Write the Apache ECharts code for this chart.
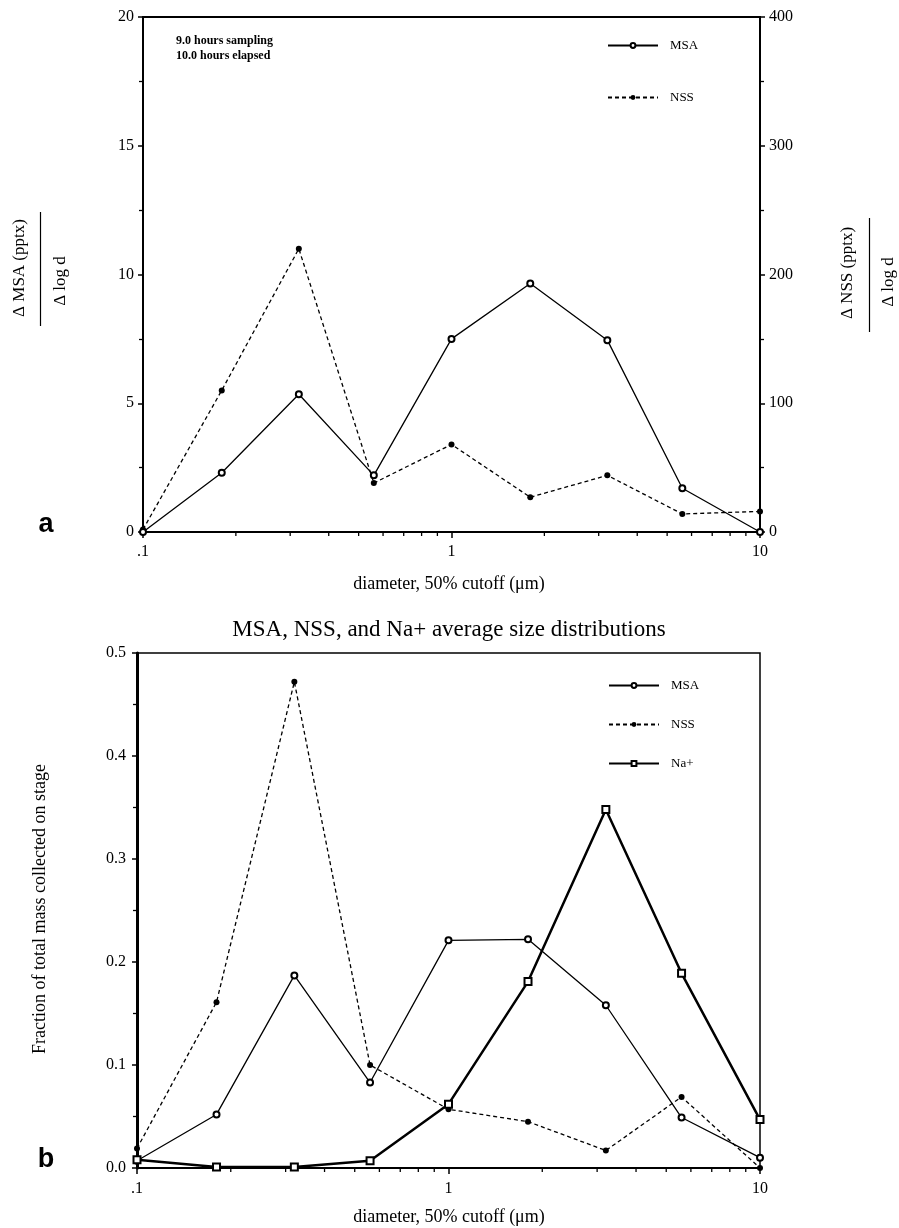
<!DOCTYPE html>
<html>
<head>
<meta charset="utf-8">
<script src="https://cdn.jsdelivr.net/npm/echarts@6/dist/echarts.min.js"></script>
<style>html,body{margin:0;padding:0;background:#fff}#c{width:899px;height:1228px}</style>
</head>
<body>
<div id="c"></div>
<script>
// ---- data ----
const diameters = [0.1, 0.18, 0.32, 0.56, 1.0, 1.8, 3.2, 5.6, 10];
const msaA = [0, 2.3, 5.35, 2.2, 7.5, 9.65, 7.45, 1.7, 0];
const nssA = [2, 110, 220, 38, 68, 27, 44, 14, 16];
const msaB = [0.007, 0.052, 0.187, 0.083, 0.221, 0.222, 0.158, 0.049, 0.010];
const nssB = [0.019, 0.161, 0.472, 0.100, 0.057, 0.045, 0.017, 0.069, 0.0];
const naB  = [0.008, 0.001, 0.001, 0.007, 0.062, 0.181, 0.348, 0.189, 0.047];
const xMinorTicks = [0.2,0.3,0.4,0.5,0.6,0.7,0.8,0.9,2,3,4,5,6,7,8,9];

const SERIF = '"Liberation Serif", "DejaVu Serif", serif';
const pairs = (ys) => diameters.map((d, i) => [d, ys[i]]);

const chart = echarts.init(document.getElementById('c'));

function xAxisDef(gridIndex, margin) {
  return {
    type: 'log', logBase: 10, gridIndex, min: 0.1, max: 10,
    axisLine: { show: true, lineStyle: { color: '#000', width: 2 } },
    axisTick: { show: true, length: 6, lineStyle: { color: '#000', width: 1.5 } },
    splitLine: { show: false },
    axisLabel: { color: '#000', fontFamily: SERIF, fontSize: 16, margin,
      formatter: v => v < 0.5 ? '.1' : String(Math.round(v)) }
  };
}

function minorTickSeries(xi, yi) {
  return {
    type: 'custom', xAxisIndex: xi, yAxisIndex: yi, silent: true, clip: false, z: 10,
    data: xMinorTicks.map(v => [v, 0]),
    encode: { x: 0, y: 1 },
    renderItem: (params, api) => {
      const p = api.coord([api.value(0), api.value(1)]);
      return { type: 'line', shape: { x1: p[0], y1: p[1], x2: p[0], y2: p[1] + 4 },
        style: { stroke: '#000', lineWidth: 1.3 } };
    }
  };
}

const msaStyle = { type: 'line', symbol: 'emptyCircle', symbolSize: 6,
  lineStyle: { color: '#000', width: 1.3 }, itemStyle: { color: '#000', borderColor: '#000', borderWidth: 1.2 } };
const nssStyle = { type: 'line', symbol: 'circle', symbolSize: 6,
  lineStyle: { color: '#000', width: 1.3, type: [4, 3] }, itemStyle: { color: '#000' } };
const naStyle = { type: 'line', symbol: 'emptyRect', symbolSize: 7,
  lineStyle: { color: '#000', width: 2.5 }, itemStyle: { color: '#000', borderColor: '#000', borderWidth: 1.3 } };

const legendText = { color: '#000', fontFamily: SERIF, fontSize: 13, padding: [0, 0, 0, 7] };

const option = {
  animation: false,
  backgroundColor: '#fff',
  grid: [
    { left: 143, right: 139, top: 17, height: 515, show: true, borderColor: '#000', borderWidth: 2 },
    { left: 137, right: 139, top: 653, height: 515, show: true, borderColor: '#000', borderWidth: 1.5 }
  ],
  xAxis: [ xAxisDef(0, 12), xAxisDef(1, 13) ],
  yAxis: [
    { type: 'value', gridIndex: 0, min: 0, max: 20, interval: 5, position: 'left',
      axisLine: { show: true, lineStyle: { color: '#000', width: 2 } },
      axisTick: { show: true, length: 5, lineStyle: { color: '#000', width: 1.5 } },
      minorTick: { show: true, splitNumber: 2, length: 4, lineStyle: { color: '#000', width: 1.3 } },
      splitLine: { show: false },
      axisLabel: { color: '#000', fontFamily: SERIF, fontSize: 16, margin: 9 } },
    { type: 'value', gridIndex: 0, min: 0, max: 400, interval: 100, position: 'right',
      axisLine: { show: true, lineStyle: { color: '#000', width: 2 } },
      axisTick: { show: true, length: 5, lineStyle: { color: '#000', width: 1.5 } },
      minorTick: { show: true, splitNumber: 2, length: 4, lineStyle: { color: '#000', width: 1.3 } },
      splitLine: { show: false },
      axisLabel: { color: '#000', fontFamily: SERIF, fontSize: 16, margin: 9 } },
    { type: 'value', gridIndex: 1, min: 0, max: 0.5, interval: 0.1, position: 'left',
      axisLine: { show: true, lineStyle: { color: '#000', width: 3 } },
      axisTick: { show: true, length: 5, lineStyle: { color: '#000', width: 1.5 } },
      minorTick: { show: true, splitNumber: 2, length: 4, lineStyle: { color: '#000', width: 1.3 } },
      splitLine: { show: false },
      axisLabel: { color: '#000', fontFamily: SERIF, fontSize: 16, margin: 11,
        formatter: v => v.toFixed(1) } }
  ],
  legend: [
    { data: ['MSA', 'NSS'], orient: 'vertical', left: 602, top: 34, itemWidth: 50, itemHeight: 6, itemGap: 39,
      selectedMode: false, textStyle: legendText },
    { data: ['MSA', 'NSS', 'Na+'], orient: 'vertical', left: 603, top: 674, itemWidth: 50, itemHeight: 6, itemGap: 26,
      selectedMode: false, textStyle: legendText }
  ],
  series: [
    Object.assign({ name: 'MSA', xAxisIndex: 0, yAxisIndex: 0, data: pairs(msaA), z: 5 }, msaStyle),
    Object.assign({ name: 'NSS', xAxisIndex: 0, yAxisIndex: 1, data: pairs(nssA), z: 4 }, nssStyle),
    Object.assign({ name: 'MSA', xAxisIndex: 1, yAxisIndex: 2, data: pairs(msaB), z: 5 }, msaStyle),
    Object.assign({ name: 'NSS', xAxisIndex: 1, yAxisIndex: 2, data: pairs(nssB), z: 4 }, nssStyle),
    Object.assign({ name: 'Na+', xAxisIndex: 1, yAxisIndex: 2, data: pairs(naB), z: 6 }, naStyle),
    minorTickSeries(0, 0),
    minorTickSeries(1, 2)
  ],
  graphic: [
    // top chart annotations
    { type: 'text', left: 176, top: 35, style: { text: '9.0 hours sampling', font: 'bold 12px ' + SERIF, fill: '#000' } },
    { type: 'text', left: 176, top: 50, style: { text: '10.0 hours elapsed', font: 'bold 12px ' + SERIF, fill: '#000' } },
    // left y label top (fraction)
    { type: 'text', x: 20, y: 268, rotation: Math.PI / 2,
      style: { text: 'Δ MSA (pptx)', font: '17px ' + SERIF, fill: '#000', align: 'center', verticalAlign: 'middle' } },
    { type: 'line', shape: { x1: 40.5, y1: 212, x2: 40.5, y2: 326 }, style: { stroke: '#000', lineWidth: 1.2 } },
    { type: 'text', x: 61, y: 281, rotation: Math.PI / 2,
      style: { text: 'Δ log d', font: '17px ' + SERIF, fill: '#000', align: 'center', verticalAlign: 'middle' } },
    // right y label top (fraction)
    { type: 'text', x: 848, y: 273, rotation: Math.PI / 2,
      style: { text: 'Δ NSS (pptx)', font: '17px ' + SERIF, fill: '#000', align: 'center', verticalAlign: 'middle' } },
    { type: 'line', shape: { x1: 869.5, y1: 218, x2: 869.5, y2: 332 }, style: { stroke: '#000', lineWidth: 1.2 } },
    { type: 'text', x: 889, y: 282, rotation: Math.PI / 2,
      style: { text: 'Δ log d', font: '17px ' + SERIF, fill: '#000', align: 'center', verticalAlign: 'middle' } },
    // x titles
    { type: 'text', x: 449, y: 584,
      style: { text: 'diameter, 50% cutoff (μm)', font: '18px ' + SERIF, fill: '#000', align: 'center', verticalAlign: 'middle' } },
    { type: 'text', x: 449, y: 1217,
      style: { text: 'diameter, 50% cutoff (μm)', font: '18px ' + SERIF, fill: '#000', align: 'center', verticalAlign: 'middle' } },
    // bottom title
    { type: 'text', x: 449, y: 630,
      style: { text: 'MSA, NSS, and Na+ average size distributions', font: '23px ' + SERIF, fill: '#000', align: 'center', verticalAlign: 'middle' } },
    // bottom y label
    { type: 'text', x: 40, y: 909, rotation: Math.PI / 2,
      style: { text: 'Fraction of total mass collected on stage', font: '18px ' + SERIF, fill: '#000', align: 'center', verticalAlign: 'middle' } },
    // panel letters
    { type: 'text', x: 46, y: 525,
      style: { text: 'a', font: 'bold 27px "Liberation Sans", Arial, sans-serif', fill: '#000', align: 'center', verticalAlign: 'middle' } },
    { type: 'text', x: 46, y: 1160,
      style: { text: 'b', font: 'bold 27px "Liberation Sans", Arial, sans-serif', fill: '#000', align: 'center', verticalAlign: 'middle' } }
  ]
};
chart.setOption(option);
</script>
</body>
</html>
